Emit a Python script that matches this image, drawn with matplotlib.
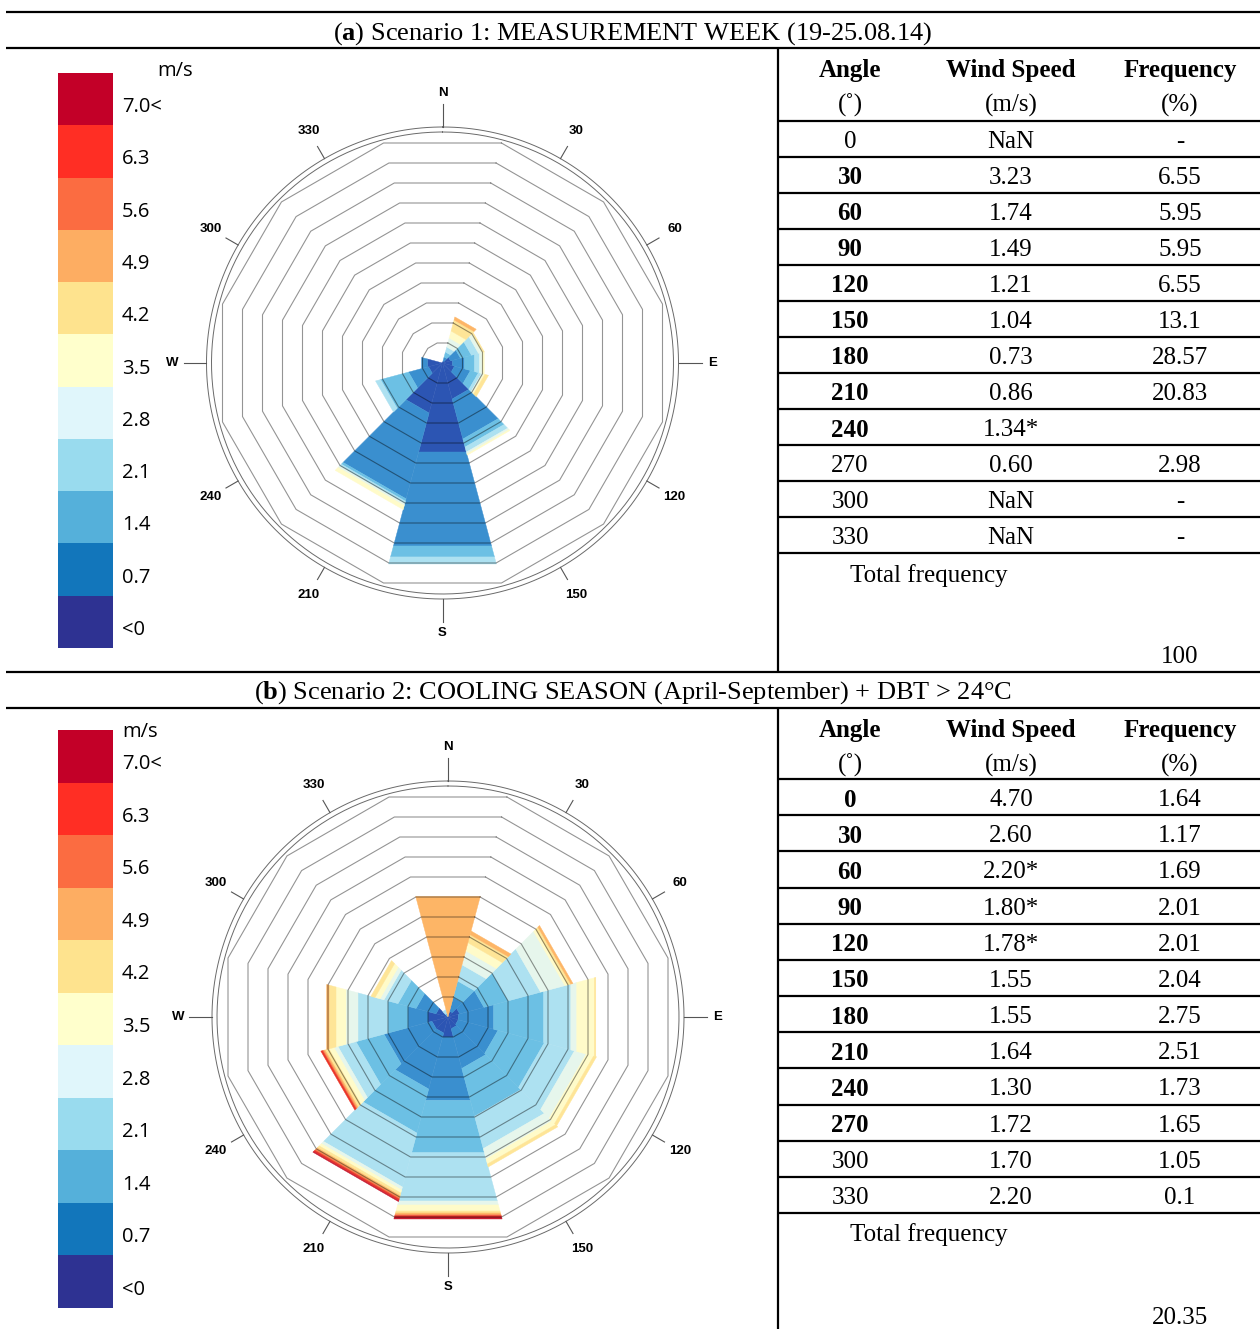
import numpy as np
import matplotlib
matplotlib.use('Agg')
import matplotlib.pyplot as plt
from matplotlib.lines import Line2D

# ---------------- data ----------------
sectors = [0, 30, 60, 90, 120, 150, 180, 210, 240, 270, 300, 330]
sector_labels = ['N', '30', '60', 'E', '120', '150', 'S', '210', '240', 'W', '300', '330']
speed_labels = ['<0', '0.7', '1.4', '2.1', '2.8', '3.5', '4.2', '4.9', '5.6', '6.3', '7.0<']
cbar_colors = ['#2e3292', '#1276bb', '#55b0da', '#99dbee', '#e0f6fb', '#ffffcc',
               '#fee38e', '#fdad62', '#fb6c41', '#ff2e24', '#c30028']
rose_colors = ['#2c55b3', '#3a8fcf', '#6cc0e4', '#ade1f1', '#e6f6ec', '#fffbc9',
               '#fee597', '#fdb566', '#f7804b', '#ea3427', '#c81a30']

# frequency (%) per speed bin (rows) and direction sector (columns) -- scenario 1
freq_a = [
    [0, 0.28, 1.14, 1.42, 1.71, 5.12, 12.65, 7.11, 1.99, 2.13, 0, 0],
    [0, 0.57, 1.42, 1.71, 2.27, 5.69, 13.36, 12.20, 2.84, 0.85, 0, 0],
    [0, 0.71, 1.56, 1.42, 1.14, 1.14, 1.56, 0.34, 3.98, 0, 0, 0],
    [0, 0.71, 1.00, 0.71, 0.43, 0.71, 1.00, 0.34, 0.71, 0, 0, 0],
    [0, 1.28, 0.48, 0.37, 0.28, 0.28, 0, 0.28, 0, 0, 0, 0],
    [0, 1.00, 0.20, 0.31, 0.20, 0.17, 0, 0.57, 0, 0, 0, 0],
    [0, 1.57, 0.14, 0, 0.51, 0, 0, 0, 0, 0, 0, 0],
    [0, 0.43, 0, 0, 0, 0, 0, 0, 0, 0, 0, 0],
    [0, 0, 0, 0, 0, 0, 0, 0, 0, 0, 0, 0],
    [0, 0, 0, 0, 0, 0, 0, 0, 0, 0, 0, 0],
    [0, 0, 0, 0, 0, 0, 0, 0, 0, 0, 0, 0],
]
# scenario 2
freq_b = [
    [0, 0.08, 0.16, 0.14, 0.14, 0.16, 0.272, 0.218, 0.218, 0.272, 0.163, 0],
    [0, 0.19, 0.33, 0.48, 0.54, 0.54, 0.862, 0.762, 0.653, 0.272, 0.272, 0],
    [0, 0.22, 0.33, 0.68, 0.63, 0.65, 0.710, 0.598, 0.381, 0.272, 0.245, 0.05],
    [0, 0.22, 0.44, 0.37, 0.41, 0.44, 0.658, 0.734, 0.245, 0.408, 0.190, 0.05],
    [0, 0.19, 0.33, 0.08, 0.16, 0.14, 0.054, 0.041, 0.054, 0.163, 0.054, 0],
    [0, 0.11, 0.04, 0.24, 0.10, 0.07, 0.082, 0.041, 0.068, 0.136, 0.068, 0],
    [0, 0.11, 0.04, 0.02, 0.04, 0.04, 0.027, 0.035, 0.054, 0.095, 0.057, 0],
    [1.64, 0.05, 0.03, 0, 0, 0, 0.022, 0.027, 0.019, 0.033, 0, 0],
    [0, 0, 0, 0, 0, 0, 0.014, 0.019, 0.014, 0, 0, 0],
    [0, 0, 0, 0, 0, 0, 0.019, 0.022, 0.024, 0, 0, 0],
    [0, 0, 0, 0, 0, 0, 0.027, 0.014, 0, 0, 0, 0],
]
ring_step_a = 2.843   # % per grid ring
ring_step_b = 0.272

table_angles = ['0', '30', '60', '90', '120', '150', '180', '210', '240', '270', '300', '330']
table_a_speed = ['NaN', '3.23', '1.74', '1.49', '1.21', '1.04', '0.73', '0.86', '1.34*', '0.60', 'NaN', 'NaN']
table_a_freq = ['-', '6.55', '5.95', '5.95', '6.55', '13.1', '28.57', '20.83', '', '2.98', '-', '-']
table_a_bold = [False, True, True, True, True, True, True, True, True, False, False, False]
table_a_total = '100'
table_b_speed = ['4.70', '2.60', '2.20*', '1.80*', '1.78*', '1.55', '1.55', '1.64', '1.30', '1.72', '1.70', '2.20']
table_b_freq = ['1.64', '1.17', '1.69', '2.01', '2.01', '2.04', '2.75', '2.51', '1.73', '1.65', '1.05', '0.1']
table_b_bold = [True, True, True, True, True, True, True, True, True, True, False, False]
table_b_total = '20.35'

title_a = r'($\mathbf{a}$) Scenario 1: MEASUREMENT WEEK (19-25.08.14)'
title_b = r'($\mathbf{b}$) Scenario 2: COOLING SEASON (April-September) + DBT > 24°C'

# ---------------- figure ----------------
W, H = 1260, 1329
plt.rcParams['mathtext.fontset'] = 'custom'
plt.rcParams['mathtext.rm'] = 'Liberation Serif'
plt.rcParams['mathtext.bf'] = 'Liberation Serif:bold'
fig = plt.figure(figsize=(W / 100, H / 100), dpi=100)
SERIF = 'Liberation Serif'
SANS = 'Open Sans'


def fx(x):
    return x / W


def fy(y):
    return 1 - y / H


def line(x0, y0, x1, y1, lw=1.6):
    fig.add_artist(Line2D([fx(x0), fx(x1)], [fy(y0), fy(y1)], transform=fig.transFigure,
                          color='black', lw=lw, solid_capstyle='butt'))


def draw_rose(cx, cy, ring, bins):
    R = 240
    ax = fig.add_axes([fx(cx - R), fy(cy + R), 2 * R / W, 2 * R / H], projection='polar')
    ax.set_theta_zero_location('N')
    ax.set_theta_direction(-1)
    ax.axis('off')
    half = np.deg2rad(15)
    c15 = np.cos(half)
    th = np.deg2rad(sectors)
    cum = np.zeros(len(sectors))
    for b, vals in enumerate(bins):
        vals = np.asarray(vals, float)
        for k in range(len(sectors)):
            v = vals[k]
            if v <= 0:
                continue
            r0 = cum[k] / c15
            r1 = (cum[k] + v) / c15
            t = [th[k] - half, th[k] + half, th[k] + half, th[k] - half]
            ax.fill(t, [r0, r0, r1, r1], facecolor=rose_colors[b], edgecolor=rose_colors[b], lw=0.3)
        cum += vals
    # polygon grid rings
    tv = np.deg2rad(np.arange(15, 376, 30))
    for k in range(1, 12):
        ax.plot(tv, np.full(tv.size, k * ring / c15), color='black', alpha=0.42, lw=0.8)
    tc = np.linspace(0, 2 * np.pi, 500)
    for rr in (11.55, 11.8):
        ax.plot(tc, np.full(tc.size, rr * ring), color='#6a6a6a', lw=0.7)
    for ang, lab in zip(sectors, sector_labels):
        t = np.deg2rad(ang)
        rout = 12.95 if ang % 90 == 0 else 12.5
        ax.plot([t, t], [11.8 * ring, rout * ring], color='#555555', lw=0.8, clip_on=False)
        rl = 13.5 if ang % 90 == 0 else 13.4
        ax.text(t, rl * ring, lab, ha='center', va='center', fontsize=9.5, fontweight='bold',
                family='Liberation Sans', clip_on=False)
    ax.set_ylim(0, 12 * ring)


def draw_cbar(x0, y0, x1, y1, ms_x, ms_y, ms_ha):
    ax = fig.add_axes([fx(x0), fy(y1), (x1 - x0) / W, (y1 - y0) / H])
    n = len(speed_labels)
    ax.bar(0.5, 1, bottom=np.arange(n), width=1, color=cbar_colors, lw=0)
    ax.set_xlim(0, 1)
    ax.set_ylim(0, n)
    ax.axis('off')
    cell = (y1 - y0) / n
    for i, lab in enumerate(speed_labels):
        yc = y1 - (i + 0.5) * cell + 8
        fig.text(fx(122), fy(yc), lab, ha='left', va='center', fontsize=14.5, family=SANS)
    fig.text(fx(ms_x), fy(ms_y), 'm/s', ha=ms_ha, va='center', fontsize=14.5, family=SANS)


def draw_table(y_h1, y_h2, y_line0, step, speeds, freqs, bold, total_y, total_val, total_val_y):
    cols = [850, 1011, 1180]
    fs = 18
    dy = 2
    for x, s in zip(cols, ['Angle', 'Wind Speed', 'Frequency']):
        fig.text(fx(x), fy(y_h1 + dy), s, ha='center', va='center', fontsize=fs, family=SERIF,
                 fontweight='bold')
    for x, s in zip(cols, ['(˚)', '(m/s)', '(%)']):
        fig.text(fx(x), fy(y_h2 + dy), s, ha='center', va='center', fontsize=fs, family=SERIF)
    for k in range(len(table_angles)):
        yl = y_line0 + step * k
        line(778, yl, 1260, yl)
        yc = yl + step / 2 + 1 + dy
        fig.text(fx(cols[0]), fy(yc), table_angles[k], ha='center', va='center', fontsize=fs,
                 family=SERIF, fontweight='bold' if bold[k] else 'normal')
        fig.text(fx(cols[1]), fy(yc), speeds[k], ha='center', va='center', fontsize=fs, family=SERIF)
        fig.text(fx(cols[2]), fy(yc), freqs[k], ha='center', va='center', fontsize=fs, family=SERIF)
    line(778, y_line0 + step * 12, 1260, y_line0 + step * 12)
    fig.text(fx(850), fy(total_y + dy), 'Total frequency', ha='left', va='center', fontsize=fs,
             family=SERIF)
    fig.text(fx(cols[2]), fy(total_val_y + dy), total_val, ha='center', va='center', fontsize=fs,
             family=SERIF)


# frame lines
line(6, 12, 1260, 12)
line(6, 48, 1260, 48)
line(6, 672, 1260, 672)
line(6, 708, 1260, 708)
line(778, 48, 778, 672)
line(778, 708, 778, 1329)

fig.text(fx(633), fy(34), title_a, ha='center', va='center', fontsize=19, family=SERIF)
fig.text(fx(633), fy(693), title_b, ha='center', va='center', fontsize=19, family=SERIF)

draw_cbar(58, 73, 113, 648, 175, 71, 'center')
draw_cbar(58, 730, 113, 1308, 122, 732, 'left')

draw_rose(442.5, 363, ring_step_a, freq_a)
draw_rose(448, 1017, ring_step_b, freq_b)

draw_table(68, 103, 121, 36.0, table_a_speed, table_a_freq, table_a_bold, 574, table_a_total, 655)
draw_table(728, 763, 779, 36.17, table_b_speed, table_b_freq, table_b_bold, 1233, table_b_total, 1316)

fig.savefig('out.png', dpi=100)
